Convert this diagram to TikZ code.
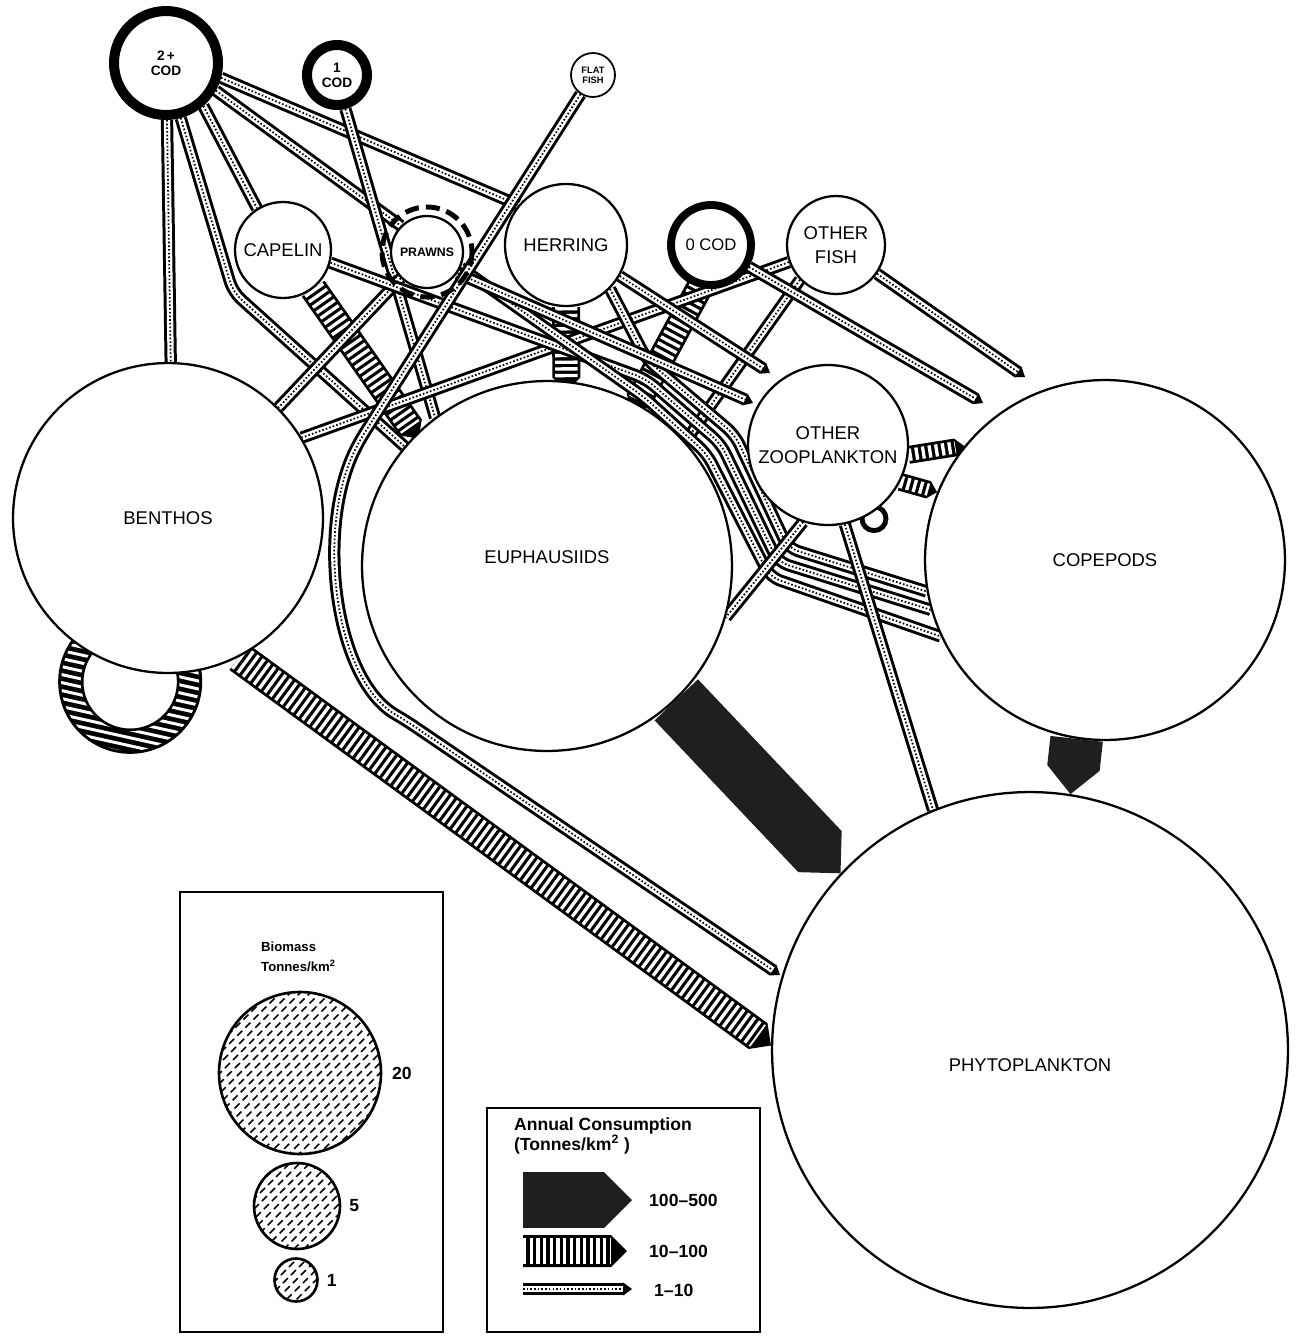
\documentclass[tikz,border=0pt]{standalone}
\usepackage{fontspec}
\setsansfont{Liberation Sans}
\usepackage{tikz}
\usetikzlibrary{shapes,arrows.meta,positioning,calc,backgrounds}

\newcommand\poolfont{\sffamily\fontsize{10.5}{13.5}\selectfont}
\newcommand\codfont{\sffamily\fontsize{9.5}{11}\selectfont}
\newcommand\smallpoolfont{\sffamily\bfseries\fontsize{7.8}{8.6}\selectfont}
\newcommand\prawnfont{\sffamily\bfseries\fontsize{7}{8}\selectfont}
\newcommand\flatfont{\sffamily\bfseries\fontsize{5.3}{5.8}\selectfont}
\newcommand\keyfont{\sffamily\bfseries\fontsize{10}{11}\selectfont}
\newcommand\keysmallfont{\sffamily\bfseries\fontsize{7.5}{11}\selectfont}

\tikzstyle{pool} = [circle, draw, fill=white, line width=1.3pt, inner sep=0pt, align=center, font=\poolfont]
\tikzstyle{codpool} = [pool, line width=5.7pt, font=\smallpoolfont]
\tikzstyle{thinout} = [line width=7pt, line join=round, rounded corners=6pt]
\tikzstyle{thinin} = [white, line width=3.6pt, line join=round, rounded corners=6pt]
\tikzstyle{thinmid} = [line width=1pt, rounded corners=6pt, dash pattern=on 0.9pt off 1.2pt]
\tikzstyle{thinhead} = [-{Triangle[length=5pt, width=7.4pt, line width=0pt]}]
\tikzstyle{darkbar} = [fill=black!88]
\tikzstyle{hatchbar} = [fill=black]
\tikzstyle{hatchgap} = [white, dash pattern=on 1.9pt off 1.9pt]
\tikzstyle{bioshade} = [pool, line width=1.5pt, path picture={
    \foreach \k in {-13,...,13}
      \draw[line width=0.9pt, dash pattern=on 4pt off 2.5pt]
        ($(path picture bounding box.center)+(\k*10-100,100)$) -- ++(200,-200);}]

% bar with a pointed end: style, from, to, half width, push into target
\newcommand{\flowbar}[5]{%
  \coordinate (fa) at (#2);
  \coordinate (fb) at ($(#3)!-#5!(#2)$);
  \coordinate (fc) at ($(fb)!#4!(fa)$);
  \fill[#1] ($(fa)!#4!90:(fb)$) -- ($(fc)!#4!90:(fb)$) -- (fb)
    -- ($(fc)!#4!-90:(fb)$) -- ($(fa)!#4!-90:(fb)$) -- cycle;}
\newcommand{\darkflow}[3]{\flowbar{darkbar}{#1}{#2}{#3}{0pt}}
\newcommand{\hatchflow}[4][0pt]{%
  \flowbar{hatchbar}{#2}{#3}{#4}{#1}
  \draw[hatchgap, line width=2*#4-3.2pt] (fa) -- (fc);}
\newcommand{\thinflow}[1]{\draw[thinout] #1; \draw[thinin] #1; \draw[thinmid] #1;}
\newcommand{\thintip}[1]{\draw[thinout, thinhead] #1; \draw[thinin, shorten >=5pt] #1; \draw[thinmid, shorten >=5pt] #1;}

\begin{document}
\begin{tikzpicture}[x=0.02cm, y=-0.02cm]
    \useasboundingbox (0,0) rectangle (1298,1336);

    % Pools
    \node[codpool, minimum size=2.08cm] (cod2) at (166,63) {2\,+\\COD};
    \node[codpool, minimum size=1.2cm] (cod1) at (337,75) {1\\COD};
    \node[pool, minimum size=0.88cm, line width=1pt, font=\flatfont] (flat) at (593,75) {FLAT\\FISH};
    \node[pool, minimum size=1.92cm] (capelin) at (283,250) {CAPELIN};
    \node[pool, minimum size=1.44cm, font=\prawnfont] (prawns) at (427,252) {PRAWNS};
    \node[pool, minimum size=2.44cm] (herring) at (566,245) {HERRING};
    \node[codpool, minimum size=1.6cm, line width=4.5pt, font=\codfont] (cod0) at (711,245) {0 COD};
    \node[pool, minimum size=1.96cm] (ofish) at (836,245) {OTHER\\FISH};
    \node[pool, minimum size=3.2cm] (ozoo) at (828,445) {OTHER\\ZOOPLANKTON};
    \node[pool, minimum size=6.2cm] (benthos) at (168,518) {BENTHOS};
    \node[pool, minimum size=7.4cm] (euph) at (547,566) {\smash{\raisebox{1.2pt}{EUPHAUSIIDS}}};
    \node[pool, minimum size=7.2cm] (cope) at (1105,560) {COPEPODS};
    \node[pool, minimum size=10.32cm] (phyto) at (1030,1050) {\smash{\raisebox{-12pt}{PHYTOPLANKTON}}};
    \draw[line width=2.8pt, dash pattern=on 8pt off 4pt] (prawns.center) circle[radius=45];

    % Bends and free ends
    \coordinate (bcod) at (233,292);
    \coordinate (bflat) at (360,440);
    \coordinate (cflat1) at (315,530);
    \coordinate (cflat2) at (335,680);
    \coordinate (bflat2) at (405,720);
    \coordinate (tflat) at (780,975);
    \coordinate (tA) at (770,373);
    \coordinate (tB) at (753,403);
    \coordinate (tC) at (983,403);
    \coordinate (tD) at (1025,377);
    \coordinate (w1a) at (647,360); \coordinate (w1b) at (735,435); \coordinate (w1c) at (788,548);
    \coordinate (w2a) at (646,379); \coordinate (w2b) at (721,444); \coordinate (w2c) at (778,562);
    \coordinate (w3a) at (644,397); \coordinate (w3b) at (707,454); \coordinate (w3c) at (770,577);
    \coordinate (bloop) at ($(benthos.center)!1.077!(benthos.-103)$);
    \coordinate (zloop) at ($(ozoo.center)!1.07!(ozoo.-58)$);

    \begin{scope}[on background layer]
    % Loops
    \fill (bloop) circle[radius=72];
    \begin{scope}
        \clip (bloop) circle[radius=69];
        \foreach \k in {-11,...,11}
            \draw[white, line width=1.7pt] ($(bloop)+(-90,\k*8-20)$) -- ++(180,40);
    \end{scope}
    \fill[white] (bloop) circle[radius=48];
    \draw[line width=1.5pt] (bloop) circle[radius=48];
    \draw[line width=2.8pt] (zloop) circle[radius=12];

    % Heavy flows
    \darkflow{euph.-46}{phyto.137}{17pt}
    \darkflow{cope.-99}{phyto.81}{15pt}

    % Medium flows
    \hatchflow{benthos.-63}{phyto.179}{9.1pt}
    \hatchflow[3pt]{capelin.-52}{euph.135}{7.9pt}
    \hatchflow[6pt]{herring.-90}{euph.84}{8pt}
    \hatchflow[6pt]{cod0.-105}{euph.61}{7.7pt}
    \hatchflow{ozoo.-7}{cope.141}{5.1pt}
    \hatchflow{ozoo.-27}{cope.158}{5.1pt}

    % Light flows
    \thinflow{(cod2.-89) -- (benthos.89)}
    \thinflow{(cod2.-75) -- (bcod) -- (euph.140)}
    \thinflow{(cod2.-49) -- (capelin.122)}
    \thinflow{(cod2.-29) -- (prawns.135)}
    \thinflow{(cod2.-15) -- (herring.140)}
    \thinflow{(cod1.-76) -- (euph.127)}
    \thinflow{(prawns.-135) -- (benthos.45)}
    \thinflow{(ofish.-160) -- (benthos.31)}
    \thinflow{(ofish.-136) -- (euph.42)}
    \thinflow{(herring.-45) -- (w1a) -- (w1b) -- (w1c) -- (cope.-170)}
    \thinflow{(capelin.-15) -- (w2a) -- (w2b) -- (w2c) -- (cope.-164)}
    \thinflow{(prawns.-25) -- (w3a) -- (w3b) -- (w3c) -- (cope.-155)}
    \thinflow{(ozoo.-108) -- (euph.-16)}
    \thinflow{(ozoo.-78) -- (phyto.112)}
    \thintip{(herring.-30) -- (tA)}
    \thintip{(prawns.-35) -- (tB)}
    \thintip{(cod0.-30) -- (tC)}
    \thintip{(ofish.-35) -- (tD)}
    \thintip{(flat.-123) -- (bflat) .. controls (cflat1) and (cflat2) .. (bflat2) -- (tflat)}
    \end{scope}

    % Biomass key
    \node[draw, line width=1.2pt, minimum width=5.26cm, minimum height=8.8cm, inner sep=0pt] (biobox) at (311.5,1112) {};
    \node[anchor=west, align=left, font=\keysmallfont] (biotitle) at (255,957) {Biomass\\Tonnes/km\textsuperscript{2}};
    \node[bioshade, minimum size=3.24cm] (bio20) at (300,1073) {};
    \node[bioshade, minimum size=1.72cm] (bio5) at (297,1206) {};
    \node[bioshade, minimum size=0.86cm] (bio1) at (296,1280) {};
    \node[right=2pt of bio20, font=\keyfont] (val20) {20};
    \node[right=1pt of bio5, font=\keyfont] (val5) {5};
    \node[right=1pt of bio1, font=\keyfont] (val1) {1};

    % Consumption key
    \node[draw, line width=1.2pt, minimum width=5.46cm, minimum height=4.48cm, inner sep=0pt] (flowbox) at (623.5,1220) {};
    \node[anchor=west, align=left, font=\keyfont] (flowtitle) at (508,1136) {Annual Consumption\\(Tonnes/km\textsuperscript{2} )};
    \coordinate (k1a) at (523,1200); \coordinate (k1b) at (632,1200);
    \coordinate (k2a) at (523,1251); \coordinate (k2b) at (627,1251);
    \coordinate (k3a) at (523,1289); \coordinate (k3b) at (632,1289);
    \darkflow{k1a}{k1b}{15.9pt}
    \hatchflow{k2a}{k2b}{9.1pt}
    \thintip{(k3a) -- (k3b)}
    \node[anchor=west, font=\keyfont] (key1) at (643,1200) {100--500};
    \node[anchor=west, font=\keyfont] (key2) at (643,1251) {10--100};
    \node[anchor=west, font=\keyfont] (key3) at (648,1290) {1--10};
\end{tikzpicture}
\end{document}
